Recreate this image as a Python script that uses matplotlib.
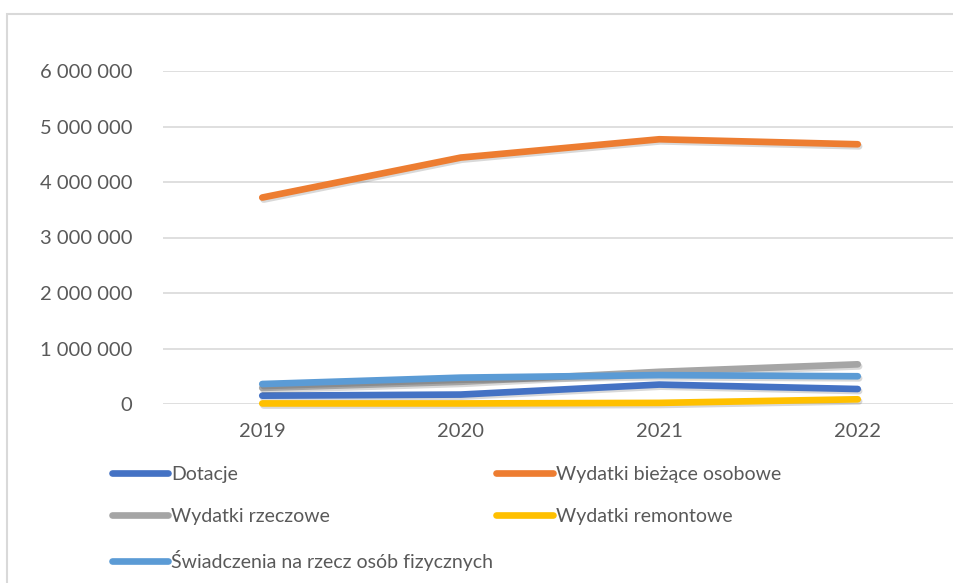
import matplotlib
matplotlib.use("Agg")
import matplotlib.pyplot as plt
import matplotlib.patheffects as pe
from matplotlib.patches import Rectangle
from matplotlib.ticker import FuncFormatter

years = ["2019", "2020", "2021", "2022"]
dotacje = [150000, 170000, 350000, 270000]
biezace_osobowe = [3720000, 4440000, 4770000, 4680000]
rzeczowe = [290000, 400000, 580000, 715000]
remontowe = [10000, 10000, 20000, 85000]
swiadczenia = [360000, 475000, 520000, 500000]

series = [
    ("Dotacje", dotacje, "#4472C4"),
    ("Wydatki bieżące osobowe", biezace_osobowe, "#ED7D31"),
    ("Wydatki rzeczowe", rzeczowe, "#A5A5A5"),
    ("Wydatki remontowe", remontowe, "#FFC000"),
    ("Świadczenia na rzecz osób fizycznych", swiadczenia, "#5B9BD5"),
]
yticks = [0, 1000000, 2000000, 3000000, 4000000, 5000000, 6000000]

plt.rcParams['font.family'] = ['Lato', 'DejaVu Sans']
W, H = 954, 583
fig = plt.figure(figsize=(W / 100, H / 100), dpi=100)
fig.patch.set_facecolor("white")

# chart border (extends beyond right/bottom edges)
fig.patches.append(Rectangle((7 / W, -0.2), 1.5, 1.2 - 14 / H, transform=fig.transFigure,
                             fill=False, edgecolor="#D9D9D9", linewidth=1.5))

left, right = 163 / W, 957 / W
top, bottom = 71 / H, 404 / H
ax = fig.add_axes([left, 1 - bottom, right - left, bottom - top])

x = list(range(len(years)))
for name, vals, col in series:
    ax.plot(x, vals, color=col, linewidth=4.8, solid_capstyle="round",
            solid_joinstyle="round", clip_on=False, zorder=3,
            path_effects=[pe.SimpleLineShadow(offset=(1, -1.5), shadow_color="black", alpha=0.15),
                          pe.Normal()])

ax.set_xlim(-0.5, len(years) - 0.5)
ax.set_ylim(0, 6000000)
ax.set_xticks(x)
ax.set_xticklabels(years)
ax.set_yticks(yticks)
ax.yaxis.set_major_formatter(FuncFormatter(lambda v, p: f"{int(v):,}".replace(",", " ")))
ax.grid(axis="y", color="#D9D9D9", linewidth=1.2, zorder=0)
ax.set_axisbelow(True)
for s in ax.spines.values():
    s.set_visible(False)
ax.tick_params(axis="both", length=0, labelsize=14.5, labelcolor="#595959")
ax.tick_params(axis="y", pad=22)
ax.tick_params(axis="x", pad=14)

colors = {n: c for n, _, c in series}
order = ["Dotacje", "Wydatki rzeczowe", "Świadczenia na rzecz osób fizycznych",
         "Wydatki bieżące osobowe", "Wydatki remontowe"]
leg_handles = [plt.Line2D([], [], color=colors[n], linewidth=4.8,
                          solid_capstyle="round") for n in order]
leg = fig.legend(leg_handles, order, ncol=2, loc="upper left",
                 bbox_to_anchor=(112 / W, 1 - 466 / H), frameon=False,
                 fontsize=14, handlelength=2.9, handletextpad=0.15, columnspacing=0.15,
                 labelspacing=1.28, borderaxespad=0, borderpad=0)
for t in leg.get_texts():
    t.set_color("#595959")

fig.savefig("out.png", dpi=100)
